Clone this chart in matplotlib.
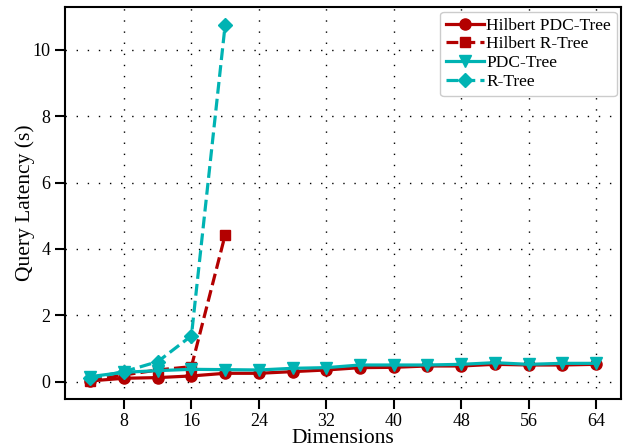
import matplotlib
matplotlib.use("Agg")
import matplotlib.pyplot as plt

dims = [4, 8, 12, 16, 20, 24, 28, 32, 36, 40, 44, 48, 52, 56, 60, 64]
hilbert_pdc = [0.02, 0.10, 0.12, 0.17, 0.25, 0.25, 0.30, 0.35, 0.42, 0.43, 0.47, 0.47, 0.52, 0.50, 0.50, 0.52]
pdc = [0.15, 0.28, 0.33, 0.37, 0.36, 0.35, 0.40, 0.42, 0.50, 0.50, 0.50, 0.52, 0.57, 0.52, 0.55, 0.55]
r_dims = [4, 8, 12, 16, 20]
hilbert_r = [0.03, 0.20, 0.35, 0.45, 4.42]
rtree = [0.10, 0.30, 0.60, 1.38, 10.75]

xticks = [8, 16, 24, 32, 40, 48, 56, 64]
yticks = [0, 2, 4, 6, 8, 10]

red = "#b30000"
cyan = "#00b3b3"

plt.rcParams["font.family"] = ["Liberation Serif", "DejaVu Serif"]

fig = plt.figure(figsize=(6.25, 4.48), dpi=100)
ax = fig.add_axes([0.104, 0.11, 0.89, 0.874])

lw = 2.3
ax.plot(dims, hilbert_pdc, color=red, lw=lw, marker="o", ms=8, label="Hilbert PDC-Tree")
ax.plot(r_dims, hilbert_r, color=red, lw=lw, ls="--", marker="s", ms=7, label="Hilbert R-Tree")
ax.plot(dims, pdc, color=cyan, lw=lw, marker="v", ms=9, label="PDC-Tree")
ax.plot(r_dims, rtree, color=cyan, lw=lw, ls="--", marker="D", ms=7, label="R-Tree")

ax.set_xticks(xticks)
ax.set_yticks(yticks)
ax.tick_params(axis="both", direction="out", length=7, width=1.5, labelsize=13)
ax.grid(True, color="black", linestyle=(0, (1, 7)), linewidth=1.0)
for s in ax.spines.values():
    s.set_linewidth(1.5)

ax.set_xlabel("Dimensions", fontsize=15.5, labelpad=-1)
ax.set_ylabel("Query Latency (s)", fontsize=15.5, labelpad=-2)

leg = ax.legend(loc="upper right", fontsize=12.5, handlelength=2.2, borderpad=0.35,
                labelspacing=0.15, handletextpad=0.1, borderaxespad=0.25,
                framealpha=1, fancybox=True)

fig.savefig("out.png", dpi=100)
